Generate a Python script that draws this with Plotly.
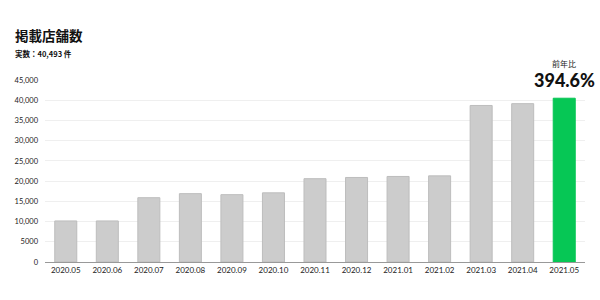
import plotly.graph_objects as go

months = ["2020.05", "2020.06", "2020.07", "2020.08", "2020.09", "2020.10", "2020.11",
          "2020.12", "2021.01", "2021.02", "2021.03", "2021.04", "2021.05"]
stores = [10150, 10150, 15900, 16900, 16650, 17100, 20600, 20900, 21150, 21300, 38700, 39150, 40493]
bar_colors = ["#cccccc"] * 12 + ["#06c755"]
line_colors = ["#bdbdbd"] * 12 + ["#06c755"]
tick_vals = [0, 5000, 10000, 15000, 20000, 25000, 30000, 35000, 40000, 45000]
tick_text = ["0", "5000", "10,000", "15,000", "20,000", "25,000", "30,000", "35,000", "40,000", "45,000"]

title_text = "掲載店舗数"
subtitle_text = "実数：40,493 件"
yoy_label = "前年比"
yoy_value = "394.6%"

FONT = "Lato, 'Noto Sans CJK JP', sans-serif"
JFONT = "'Noto Sans CJK JP', Lato, sans-serif"

fig = go.Figure(go.Bar(
    x=months, y=stores,
    marker=dict(color=bar_colors, line=dict(color=line_colors, width=1)),
    hoverinfo="skip",
))

L, R, T, B = 45, 15, 80, 38

fig.update_layout(
    width=600, height=300,
    margin=dict(l=L, r=R, t=T, b=B),
    paper_bgcolor="white", plot_bgcolor="white",
    bargap=0.47,
    showlegend=False,
    font=dict(family=FONT, color="#222222"),
    xaxis=dict(
        type="category", range=[-0.5, len(months) - 0.5],
        showgrid=False, showline=True, linecolor="#999999", linewidth=1,
        ticks="", tickfont=dict(size=8, color="#1a1a1a"), fixedrange=True,
    ),
    yaxis=dict(
        range=[0, 45000], tickvals=tick_vals, ticktext=tick_text,
        showgrid=True, gridcolor="#efefef", gridwidth=1, zeroline=False,
        ticks="", ticklabelstandoff=6,
        tickfont=dict(size=7.5, color="#1a1a1a"), fixedrange=True,
    ),
)

plot_w = 600 - L - R
plot_h = 300 - T - B


def py(px):
    return (300 - B - px) / plot_h


def pxx(px):
    return (px - L) / plot_w


last_center = (len(months) - 0.5) / len(months)

fig.add_annotation(text="<b>" + title_text + "</b>", x=pxx(13), y=py(35), xref="paper", yref="paper",
                   showarrow=False, xanchor="left", yanchor="middle",
                   font=dict(family=JFONT, size=13.5, color="#111111"))
fig.add_annotation(text="<b>" + subtitle_text + "</b>", x=pxx(13), y=py(53), xref="paper", yref="paper",
                   showarrow=False, xanchor="left", yanchor="middle",
                   font=dict(family=JFONT, size=7.5, color="#111111"))
fig.add_annotation(text=yoy_label, x=last_center, y=py(63), xref="paper", yref="paper",
                   showarrow=False, xanchor="center", yanchor="middle",
                   font=dict(family=JFONT, size=8, color="#222222"))
fig.add_annotation(text=yoy_value, x=last_center, y=py(80), xref="paper", yref="paper",
                   showarrow=False, xanchor="center", yanchor="middle",
                   font=dict(family=FONT, size=18, color="#111111", weight=900))

fig.write_html("out.html")
